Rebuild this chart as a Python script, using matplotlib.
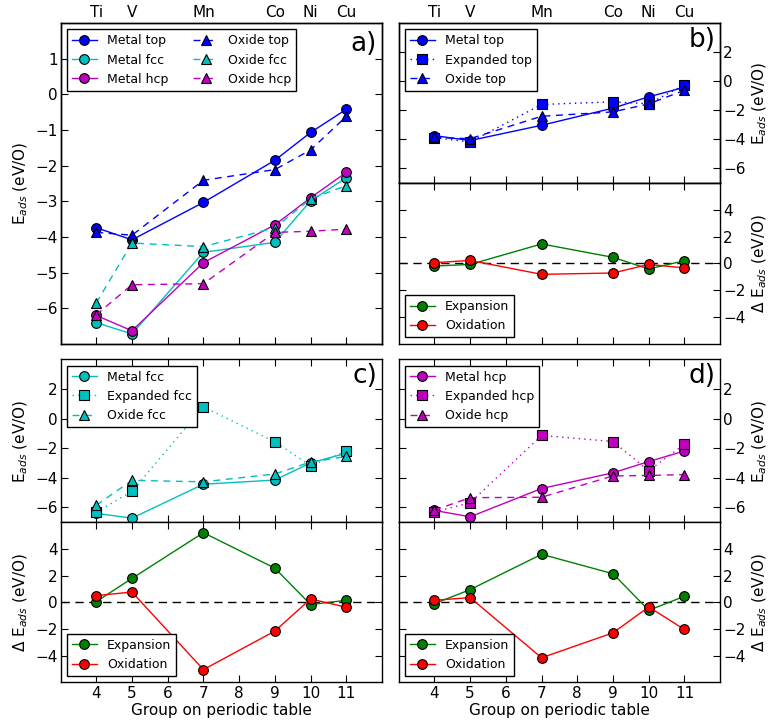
import numpy as np
import matplotlib
matplotlib.use("Agg")
import matplotlib.pyplot as plt

plt.rcParams['font.family'] = ['DejaVu Sans']
plt.rcParams['font.size'] = 11
plt.rcParams['xtick.direction'] = 'in'
plt.rcParams['ytick.direction'] = 'in'
plt.rcParams['xtick.major.size'] = 5
plt.rcParams['ytick.major.size'] = 5
plt.rcParams['xtick.major.pad'] = 3
plt.rcParams['ytick.major.pad'] = 2
plt.rcParams['axes.linewidth'] = 1.0
plt.rcParams['mathtext.fontset'] = 'dejavusans'
plt.rcParams['lines.dashed_pattern'] = [5, 4]
plt.rcParams['lines.dotted_pattern'] = [1, 3]
plt.rcParams['lines.scale_dashes'] = False

groups = [4, 5, 7, 9, 10, 11]
elements = ['Ti', 'V', 'Mn', 'Co', 'Ni', 'Cu']

metal_top = [-3.74, -4.08, -3.03, -1.85, -1.07, -0.42]
metal_fcc = [-6.40, -6.72, -4.43, -4.15, -2.99, -2.34]
metal_hcp = [-6.20, -6.63, -4.72, -3.66, -2.90, -2.19]
oxide_top = [-3.87, -3.95, -2.41, -2.11, -1.56, -0.62]
oxide_fcc = [-5.85, -4.17, -4.27, -3.74, -2.93, -2.56]
oxide_hcp = [-6.18, -5.34, -5.31, -3.87, -3.84, -3.78]
expanded_top = [-3.88, -4.18, -1.60, -1.42, -1.55, -0.25]
expanded_fcc = [-6.32, -4.91, 0.79, -1.57, -3.18, -2.21]
expanded_hcp = [-6.30, -5.68, -1.14, -1.55, -3.52, -1.73]

expansion_top = [-0.20, -0.08, 1.45, 0.45, -0.42, 0.20]
oxidation_top = [0.05, 0.22, -0.82, -0.72, -0.08, -0.34]
expansion_fcc = [0.05, 1.79, 5.22, 2.56, -0.17, 0.15]
oxidation_fcc = [0.50, 0.77, -5.05, -2.16, 0.25, -0.37]
expansion_hcp = [-0.10, 0.95, 3.60, 2.14, -0.60, 0.45]
oxidation_hcp = [0.15, 0.35, -4.16, -2.29, -0.35, -2.04]

blue = (0, 0, 1)
cyan = (0, 0.75, 0.75)
magenta = (0.75, 0, 0.75)
green = (0, 0.5, 0)
red = (1, 0, 0)

ylab = r'E$_{ads}$ (eV/O)'
dlab = r'$\Delta$ E$_{ads}$ (eV/O)'
ms = 7
leg_kw = dict(fontsize=9, numpoints=1, fancybox=False, framealpha=1,
              edgecolor='k', borderaxespad=0.5, handlelength=2.0)

fig = plt.figure(figsize=(7.7, 7.26), dpi=100)
L, W = 0.0786, 0.4175
R = 0.5178
ax_a = fig.add_axes([L, 0.5262, W, 0.9683 - 0.5262])
ax_b = fig.add_axes([R, 0.7479, W, 0.9683 - 0.7479])
ax_bd = fig.add_axes([R, 0.5266, W, 0.7479 - 0.5266])
ax_c = fig.add_axes([L, 0.2806, W, 0.5051 - 0.2806])
ax_cd = fig.add_axes([L, 0.0602, W, 0.2806 - 0.0602])
ax_d = fig.add_axes([R, 0.2806, W, 0.5051 - 0.2806])
ax_dd = fig.add_axes([R, 0.0602, W, 0.2806 - 0.0602])


def mline(ax, y, color, marker, ls, label):
    ax.plot(groups, y, color=color, marker=marker, ls=ls, lw=1.0, ms=ms,
            mec='k', mew=0.8, label=label)


# panel a
mline(ax_a, metal_top, blue, 'o', '-', 'Metal top')
mline(ax_a, metal_fcc, cyan, 'o', '-', 'Metal fcc')
mline(ax_a, metal_hcp, magenta, 'o', '-', 'Metal hcp')
mline(ax_a, oxide_top, blue, '^', '--', 'Oxide top')
mline(ax_a, oxide_fcc, cyan, '^', '--', 'Oxide fcc')
mline(ax_a, oxide_hcp, magenta, '^', '--', 'Oxide hcp')
ax_a.set_ylim(-7, 2)
ax_a.set_yticks(range(-6, 2))
ax_a.set_ylabel(ylab)
ax_a.legend(loc='upper left', ncol=2, **leg_kw)

# panels b, c, d
for ax, met, exp, oxi, col, name in [
        (ax_b, metal_top, expanded_top, oxide_top, blue, 'top'),
        (ax_c, metal_fcc, expanded_fcc, oxide_fcc, cyan, 'fcc'),
        (ax_d, metal_hcp, expanded_hcp, oxide_hcp, magenta, 'hcp')]:
    mline(ax, met, col, 'o', '-', 'Metal ' + name)
    mline(ax, exp, col, 's', ':', 'Expanded ' + name)
    mline(ax, oxi, col, '^', '--', 'Oxide ' + name)
    ax.set_ylim(-7, 4)
    ax.set_yticks([-6, -4, -2, 0, 2])
    ax.set_ylabel(ylab)
    ax.legend(loc='upper left', **leg_kw)

for ax, ex, ox in [(ax_bd, expansion_top, oxidation_top),
                   (ax_cd, expansion_fcc, oxidation_fcc),
                   (ax_dd, expansion_hcp, oxidation_hcp)]:
    ax.axhline(0, color='k', ls='--', lw=1.0, dashes=(6, 4))
    mline(ax, ex, green, 'o', '-', 'Expansion')
    mline(ax, ox, red, 'o', '-', 'Oxidation')
    ax.set_ylim(-6, 6)
    ax.set_yticks([-4, -2, 0, 2, 4])
    ax.set_ylabel(dlab)
    ax.legend(loc='lower left', **leg_kw)

for ax in [ax_b, ax_bd, ax_d, ax_dd]:
    ax.yaxis.set_label_position('right')
    ax.tick_params(axis='y', labelleft=False, labelright=True)

for ax in [ax_a, ax_b, ax_bd, ax_c, ax_cd, ax_d, ax_dd]:
    ax.set_xlim(3, 12)
    ax.set_xticks(range(4, 12))
    ax.tick_params(top=True, right=True, left=True, bottom=True)
    ax.tick_params(axis='x', labelbottom=False)

for ax in [ax_cd, ax_dd]:
    ax.tick_params(axis='x', labelbottom=True)
    ax.set_xlabel('Group on periodic table', labelpad=1)

for ax in [ax_a, ax_b]:
    top = ax.twiny()
    top.set_xlim(ax.get_xlim())
    top.set_xticks(groups)
    top.set_xticklabels(elements)
    top.tick_params(axis='x', length=0, pad=2)

for ax, lab in [(ax_a, 'a)'), (ax_b, 'b)'), (ax_c, 'c)'), (ax_d, 'd)')]:
    ax.text(0.985, 0.975, lab, transform=ax.transAxes, ha='right', va='top',
            fontsize=19)

fig.savefig('out.png', dpi=100, facecolor='white')
